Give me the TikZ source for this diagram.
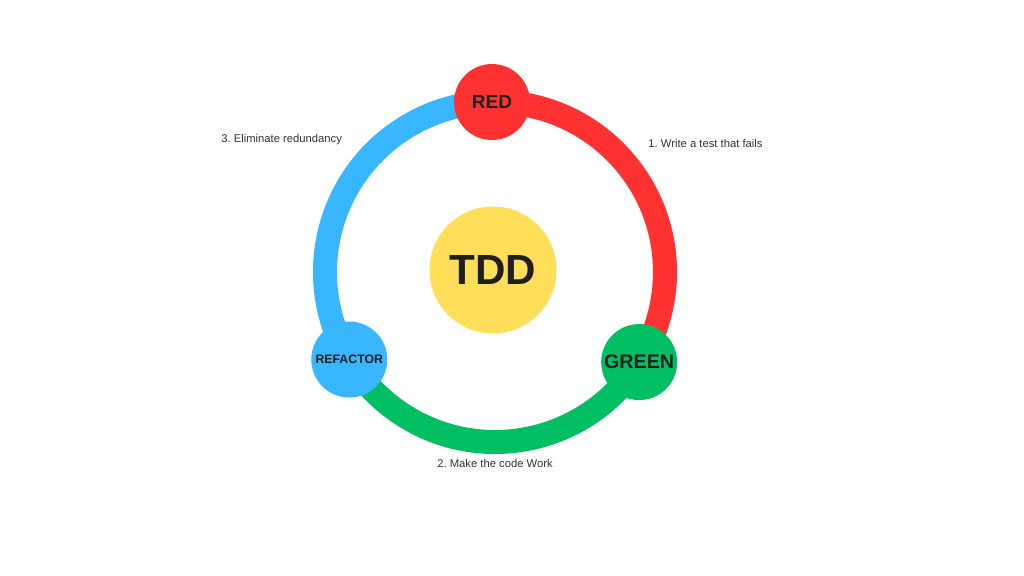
\documentclass[tikz,border=0pt]{standalone}
\usepackage{fontspec}
\setmainfont{Liberation Sans}
\usetikzlibrary{backgrounds}
\definecolor{tddred}{HTML}{FF3131}
\definecolor{tddgreen}{HTML}{00BF63}
\definecolor{tddblue}{HTML}{38B6FF}
\definecolor{tddyellow}{HTML}{FFDE59}
\frenchspacing
\begin{document}
\begin{tikzpicture}[
	phase/.style={circle,minimum size=1.52cm,inner sep=0pt,font=\bfseries,text=black!88},
	ring/.style={line width=0.48cm},
	note/.style={inner sep=0pt,font=\fontsize{6.4}{8}\selectfont,text=black!80}
	]
		\useasboundingbox (0,0) rectangle (20.48,11.52);
		\coordinate (ctr) at (9.9,6.08);
		
		\node[phase,fill=tddred,font=\bfseries\fontsize{10.8}{12}\selectfont] (red) at ([shift={(91:3.4)}]ctr) {RED};
		\node[phase,fill=tddgreen,font=\bfseries\fontsize{11.2}{12}\selectfont] (green) at ([shift={(-32:3.4)}]ctr) {GREEN};
		\node[phase,fill=tddblue,font=\bfseries\fontsize{7}{8}\selectfont] (refactor) at ([shift={(-149:3.4)}]ctr) {REFACTOR};
		\node[circle,fill=tddyellow,minimum size=2.54cm,font=\bfseries\fontsize{24}{26}\selectfont,text=black!88] (tdd) at (9.86,6.12) {TDD};
		
		\begin{scope}[on background layer]
		\draw[ring,tddred] (red.center) arc[start angle=91,end angle=-32,radius=3.4];
		\draw[ring,tddgreen] (green.center) arc[start angle=-32,end angle=-149,radius=3.4];
		\draw[ring,tddblue] (refactor.center) arc[start angle=211,end angle=91,radius=3.4];
		\end{scope}
		
		\node[note,anchor=west] (write) at (12.96,8.66) {1. Write a test that fails};
		\node[note] (make) at (9.9,2.26) {2. Make the code Work};
		\node[note,anchor=west] (elim) at (4.42,8.72) {3. Eliminate redundancy};
		\end{tikzpicture}
\end{document}
